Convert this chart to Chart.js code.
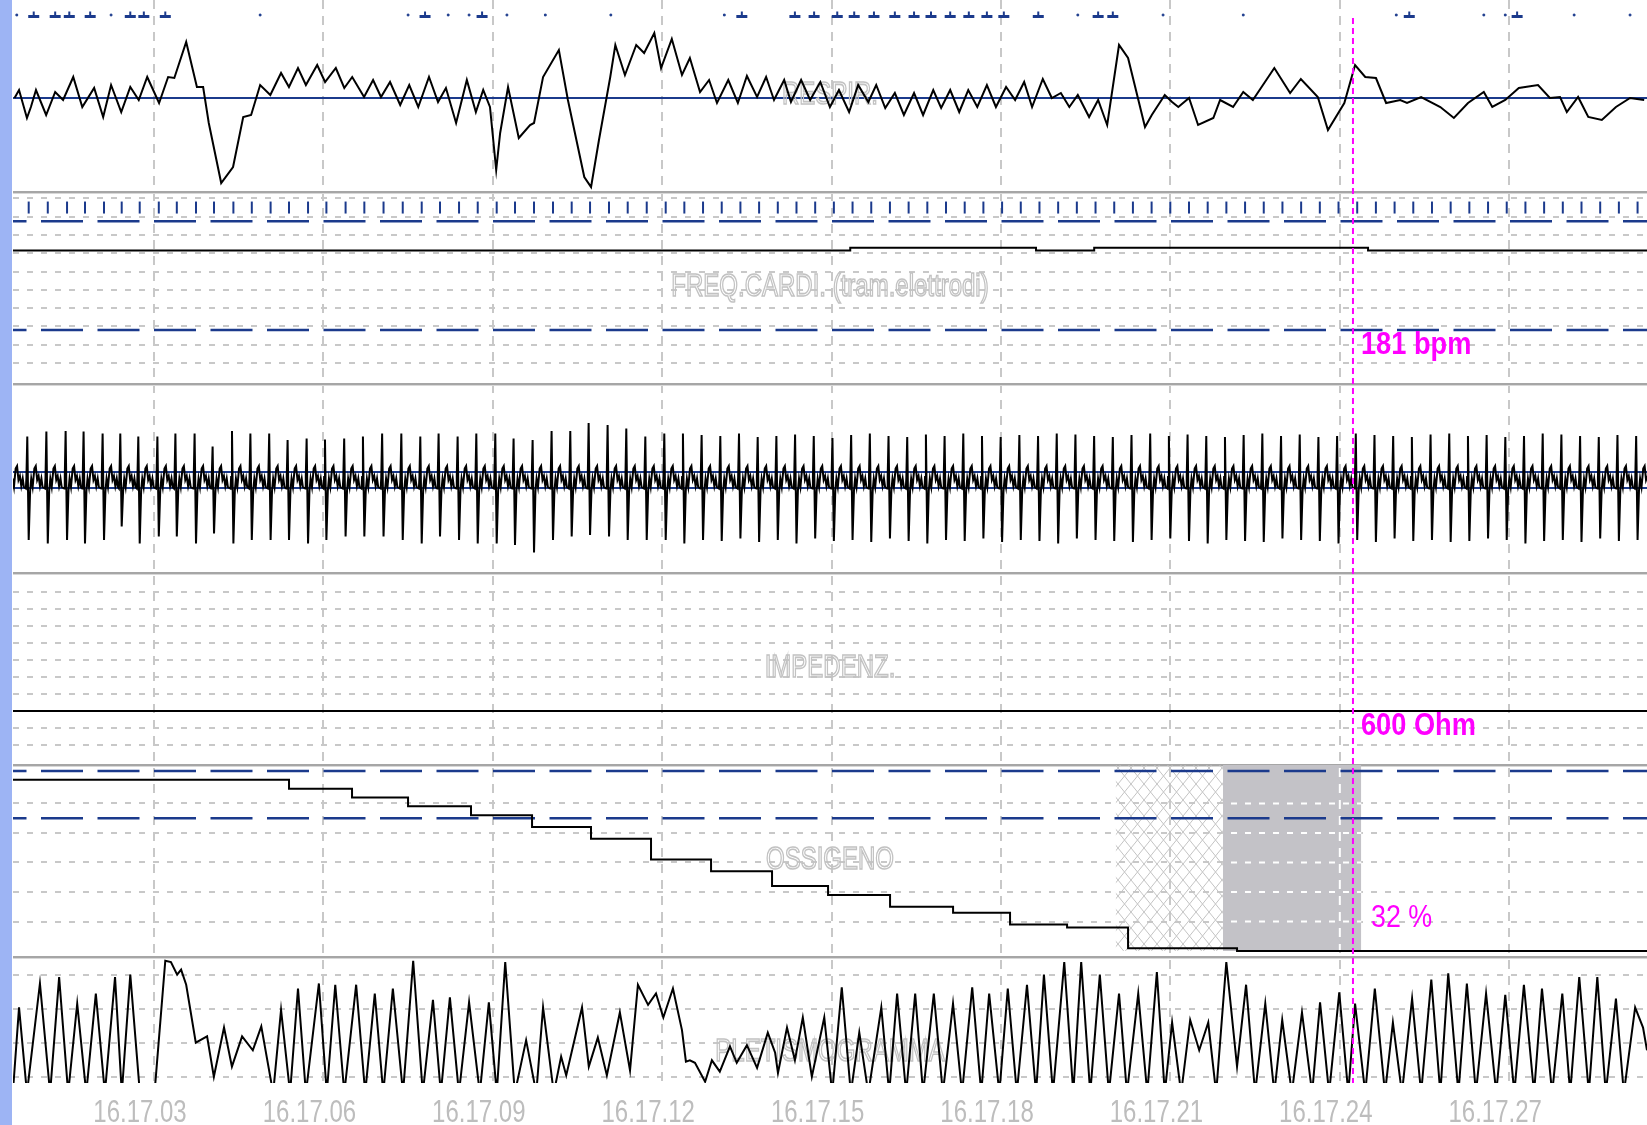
<!DOCTYPE html>
<html>
<head>
<meta charset="utf-8">
<title>Monitor 16.17</title>
<script src="https://cdn.jsdelivr.net/npm/chart.js@4.4.1/dist/chart.umd.min.js"></script>
<style>
  html, body { margin: 0; padding: 0; background: #ffffff; }
  #wrap { position: relative; width: 1647px; height: 1125px; overflow: hidden; }
  #strip { position: absolute; left: 0; top: 0; width: 12px; height: 1125px; background: #9db4f4; }
  #monitor { position: absolute; left: 0; top: 0; }
</style>
</head>
<body>
<div id="wrap">
  <div id="strip"></div>
  <canvas id="monitor" width="1647" height="1125"></canvas>
</div>
<script>
// ---------------------------------------------------------------
// Time base: seconds after 16:17:00
// ---------------------------------------------------------------
const T_MIN = 0.503;
const T_MAX = 29.44;
const timeTicks = [3, 6, 9, 12, 15, 18, 21, 24, 27];
const clockPrefix = '16.17.';
const cursorTime = 24.233;

// ---------------------------------------------------------------
// Respiration (turning points of the trace)
// ---------------------------------------------------------------
const respTimes = [
  0.53,0.61,0.75,0.82,0.91,1.09,1.25,1.39,1.57,1.73,
  1.94,2.10,2.24,2.42,2.58,2.73,2.88,3.09,3.25,3.36,
  3.57,3.76,3.87,3.97,4.19,4.40,4.58,4.72,4.88,5.06,
  5.25,5.39,5.55,5.69,5.89,6.03,6.22,6.37,6.51,6.72,
  6.88,7.02,7.18,7.36,7.52,7.68,7.87,8.03,8.17,8.35,
  8.54,8.70,8.83,8.95,9.06,9.13,9.27,9.46,9.66,9.73,
  9.89,10.17,10.33,10.62,10.74,10.88,11.08,11.17,11.34,11.54,
  11.68,11.86,11.98,12.17,12.35,12.49,12.67,12.83,12.97,13.17,
  13.34,13.50,13.68,13.84,13.98,14.16,14.28,14.46,14.62,14.80,
  14.97,15.13,15.31,15.47,15.65,15.79,15.95,16.12,16.28,16.46,
  16.62,16.80,16.94,17.10,17.26,17.42,17.58,17.75,17.91,18.09,
  18.25,18.41,18.55,18.74,18.90,19.06,19.21,19.36,19.56,19.72,
  19.88,20.09,20.25,20.55,20.67,20.90,21.03,21.14,21.33,21.49,
  21.76,21.88,22.11,22.29,22.46,22.84,23.12,23.31,23.61,23.79,
  24.08,24.27,24.45,24.64,24.82,25.07,25.19,25.44,25.78,26.02,
  26.27,26.55,26.70,26.93,27.17,27.51,27.72,27.90,28.02,28.22,
  28.40,28.64,28.89,29.14,29.39
];
const respValues = [
  0,8,-20,-9,8,-17,6,-2,21,-9,
  10,-19,13,-14,11,-2,21,-5,21,20,
  56,11,11,-25,-85,-69,-19,-17,13,3,
  25,11,30,13,33,16,30,10,21,1,
  18,1,16,-7,13,-9,21,-4,10,-25,
  18,-14,8,-9,-72,-35,11,-40,-27,-25,
  21,48,-2,-79,-89,-42,21,53,23,53,
  45,65,30,59,23,40,6,18,-5,18,
  -5,22,1,21,-2,18,-4,18,-2,16,
  -9,8,-14,13,-4,13,-10,5,-17,5,
  -17,8,-10,8,-14,8,-9,13,-9,11,
  -2,16,-9,19,0,5,-9,3,-19,-2,
  -27,53,40,-29,-17,3,-4,-9,0,-27,
  -20,-2,-9,6,-2,30,5,19,1,-32,
  -5,33,21,20,-5,-2,-5,1,-9,-20,
  -5,6,-9,-2,10,13,0,1,-14,1,
  -19,-22,-9,0,-2
];
const respBaseline = [0];
// breath detection marks along the top of the respiration strip
const breathMarkTimes = [0.87,1.25,1.50,1.87,2.58,2.82,3.20,7.80,8.81,13.41,14.35,14.69,15.10,15.40,15.75,16.12,16.46,16.76,17.10,17.43,17.75,18.05,18.66,19.72,19.98,25.23,27.14];
const breathDotTimes = [0.57,2.24,4.88,7.50,8.21,8.58,9.25,9.93,11.09,13.10,19.36,20.87,22.29,25.00,26.55,26.93,28.15,29.14];
const breathMarkLevel = 81.5;

// ---------------------------------------------------------------
// Heart: beats (S-wave instants), R and S amplitudes in mV
// ---------------------------------------------------------------
const beatTimes = [
  0.450,0.781,1.119,1.460,1.778,2.115,2.428,2.747,3.085,3.404,3.744,
  4.063,4.406,4.732,5.065,5.391,5.728,6.053,6.393,6.725,7.065,
  7.405,7.741,8.065,8.402,8.733,9.069,9.393,9.730,10.066,10.397,
  10.722,11.058,11.389,11.726,12.062,12.392,12.723,13.054,13.385,13.716,
  14.047,14.378,14.709,15.040,15.371,15.702,16.033,16.364,16.695,17.026,
  17.357,17.688,18.019,18.350,18.681,19.012,19.343,19.674,20.005,20.336,
  20.667,20.998,21.329,21.660,21.991,22.322,22.653,22.984,23.315,23.646,
  23.977,24.308,24.639,24.970,25.301,25.632,25.963,26.294,26.625,26.956,
  27.287,27.618,27.949,28.280,28.611,28.942,29.273
];
const beatR = [
  0.90,0.89,0.99,1.00,0.99,0.95,0.95,0.89,0.89,0.95,0.95,
  0.69,1.00,0.95,0.95,0.82,0.85,0.83,0.85,0.89,0.95,
  0.95,0.89,0.95,0.89,0.95,0.95,0.85,0.82,1.00,1.00,
  1.16,1.12,1.05,0.89,0.95,0.95,0.92,0.90,0.95,0.88,
  0.90,0.93,0.90,0.86,0.92,0.95,0.90,0.88,0.93,0.90,
  0.95,0.90,0.88,0.92,0.90,0.95,0.93,0.90,0.88,0.92,
  0.95,0.90,0.93,0.90,0.88,0.92,0.95,0.90,0.93,0.88,
  0.90,0.95,0.92,0.90,0.88,0.93,0.95,0.90,0.92,0.88,
  0.90,0.95,0.93,0.90,0.88,0.92,0.90
];
const beatS = [
  -1.20,-1.18,-1.25,-1.18,-1.25,-1.18,-0.91,-1.25,-1.11,-1.11,-1.25,
  -1.05,-1.25,-1.18,-1.18,-1.18,-1.25,-1.18,-1.11,-1.11,-1.11,
  -1.18,-1.25,-1.11,-1.18,-1.25,-1.25,-1.28,-1.43,-1.18,-1.11,
  -1.08,-1.11,-1.18,-1.18,-1.18,-1.25,-1.18,-1.20,-1.15,-1.22,
  -1.18,-1.25,-1.15,-1.20,-1.18,-1.22,-1.15,-1.20,-1.25,-1.18,
  -1.20,-1.15,-1.22,-1.18,-1.20,-1.25,-1.15,-1.18,-1.20,-1.22,
  -1.18,-1.15,-1.20,-1.25,-1.18,-1.20,-1.22,-1.15,-1.18,-1.20,
  -1.25,-1.18,-1.22,-1.15,-1.20,-1.18,-1.22,-1.20,-1.15,-1.18,
  -1.25,-1.20,-1.18,-1.22,-1.15,-1.20,-1.18
];
const ecgRefs = [0.18, -0.14];

// heart rate from the electrode channel
const hrTimes = [0.503, 15.33, 18.62, 19.65, 24.50];
const hrValues = [178, 181, 178, 181, 178];
const hrAlarms = [210, 91];
const hrGrid = [235, 215, 195, 175, 155, 135, 115, 95, 75, 55];
const beatMarkLevel = 225;

// ---------------------------------------------------------------
// Impedance
// ---------------------------------------------------------------
const impTimes = [0.503, 29.44];
const impValues = [600, 600];
const impGrid = [1300, 1200, 1100, 1000, 900, 800, 700, 600, 500, 400];

// ---------------------------------------------------------------
// Oxygen saturation
// ---------------------------------------------------------------
const spo2Times = [0.503, 5.391, 6.507, 7.499, 8.614, 9.695, 10.739, 11.802, 12.865, 13.945, 14.937, 16.035, 17.151, 18.160, 19.170, 20.250, 22.180, 29.44];
const spo2Values = [90, 87, 84, 81, 78, 74, 70, 63, 59, 54, 51, 47, 45, 41, 40, 33, 32, 32];
const spo2Alarms = [93, 77];
const spo2Grid = [82, 72, 62, 52, 42];
const artefactSpan = [20.03, 21.93];   // probe artefact (hatched)
const dropoutSpan = [21.93, 24.38];    // signal lost (grey)

// ---------------------------------------------------------------
// Plethysmogram
// ---------------------------------------------------------------
const plethTimes = [
  0.50,0.61,0.75,0.98,1.16,1.32,1.48,1.64,1.80,1.97,
  2.13,2.31,2.43,2.58,2.75,2.84,3.02,3.20,3.30,3.41,
  3.48,3.57,3.74,3.94,4.06,4.24,4.38,4.56,4.75,4.90,
  5.11,5.25,5.41,5.55,5.69,5.92,6.06,6.21,6.37,6.58,
  6.74,6.91,7.06,7.23,7.41,7.59,7.76,7.94,8.08,8.24,
  8.40,8.58,8.77,8.93,9.07,9.22,9.39,9.59,9.77,9.89,
  10.08,10.21,10.30,10.58,10.70,10.86,11.02,11.25,11.43,11.57,
  11.75,11.89,12.02,12.19,12.35,12.42,12.49,12.58,12.76,12.88,
  13.02,13.20,13.32,13.50,13.68,13.87,14.00,14.05,14.21,14.35,
  14.49,14.65,14.87,15.01,15.18,15.34,15.49,15.65,15.88,16.02,
  16.16,16.32,16.48,16.62,16.81,16.97,17.15,17.31,17.49,17.65,
  17.79,17.97,18.12,18.28,18.46,18.62,18.76,18.92,19.12,19.28,
  19.42,19.58,19.75,19.91,20.09,20.23,20.43,20.59,20.76,20.90,
  21.03,21.19,21.35,21.51,21.67,21.81,21.99,22.18,22.34,22.50,
  22.68,22.84,22.98,23.15,23.33,23.51,23.65,23.81,23.99,24.15,
  24.27,24.45,24.62,24.80,24.94,25.10,25.28,25.44,25.62,25.78,
  25.92,26.10,26.25,26.41,26.59,26.77,26.93,27.09,27.26,27.44,
  27.58,27.76,27.94,28.08,28.24,28.41,28.56,28.71,28.89,29.03,
  29.23,29.37,29.44
];
const plethValues = [
  -8,60,-8,79,-8,84,-8,63,-8,71,
  -8,84,-8,86,-8,-8,-2,97,96,86,
  90,78,32,37,5,44,13,37,26,45,
  -8,58,-8,75,-8,79,-8,78,-8,78,
  -8,71,-8,75,-8,97,-8,66,-8,68,
  -8,64,-8,64,-8,96,-8,34,-8,60,
  -8,21,6,60,13,36,6,56,10,78,
  62,71,52,75,42,17,18,16,1,18,
  9,29,16,30,12,40,24,8,44,18,
  52,5,52,-8,76,-8,40,-8,60,-8,
  71,-8,71,-8,71,-8,63,-8,76,-8,
  71,-8,75,-8,78,-8,86,-8,96,-8,
  96,-8,86,-8,71,-8,71,-8,88,-8,
  48,-8,50,26,48,-8,96,13,78,-8,
  63,-8,50,-8,56,-8,64,-8,72,-8,
  63,-8,75,-8,48,-8,67,-8,82,-8,
  87,-8,79,-8,71,-8,70,-8,78,-8,
  75,-8,71,-8,84,-8,84,-8,67,-8,
  60,44,26
];
const plethGrid = [86, 59, 32, 5];

// ---------------------------------------------------------------
// Drawing helpers
// ---------------------------------------------------------------
const NAVY = '#1b3a8c';
const GRID = '#c8c8c8';
const MAGENTA = '#ff00ff';
const TEXT_FONT = '"Liberation Sans", Arial, sans-serif';

const zip = (xs, ys) => xs.map((x, i) => ({ x, y: ys[i] }));
const level = (xs, v) => xs.map(x => ({ x, y: v }));
const span = (v) => [{ x: T_MIN, y: v }, { x: T_MAX, y: v }];
const clockLabel = (s) => clockPrefix + String(s).padStart(2, '0');

// shape of one complex around the S instant: lead-in, R at -25 ms, S at 0, then ST/T segment
const qrsLead = [[-0.05, -0.15], [-0.04, 0.08]];
const qrsTrail = [[0.025, -0.2], [0.045, 0.05], [0.07, -0.12], [0.10, 0.25], [0.125, 0.30], [0.15, 0.02], [0.175, 0.10], [0.20, -0.10], [0.225, 0.05], [0.245, -0.12]];

function ecgPoints() {
  const pts = [];
  beatTimes.forEach((t, i) => {
    for (const [dt, v] of qrsLead) pts.push({ x: t + dt, y: v });
    pts.push({ x: t - 0.025, y: beatR[i] });
    pts.push({ x: t, y: beatS[i] });
    for (const [dt, v] of qrsTrail) pts.push({ x: t + dt, y: v });
  });
  return pts;
}

function valueAt(times, values, t) {
  let v = values[0];
  for (let i = 0; i < times.length; i++) if (times[i] <= t) v = values[i];
  return v;
}

function drawStretched(ctx, text, x, y, font, sx, align, color, hollow) {
  ctx.save();
  ctx.translate(x, y);
  ctx.scale(sx, 1);
  ctx.font = font;
  ctx.textAlign = align;
  ctx.textBaseline = 'alphabetic';
  if (hollow) {
    ctx.strokeStyle = color;
    ctx.lineWidth = 1.6;
    ctx.strokeText(text, 0, 0);
  } else {
    ctx.fillStyle = color;
    ctx.fillText(text, 0, 0);
  }
  ctx.restore();
}

const ctx2d = document.getElementById('monitor').getContext('2d');
function crossHatch() {
  const c = document.createElement('canvas');
  c.width = 13; c.height = 16;
  const g = c.getContext('2d');
  g.strokeStyle = '#c4c4c4';
  g.lineWidth = 1;
  g.beginPath();
  g.moveTo(0, 0); g.lineTo(13, 16);
  g.moveTo(13, 0); g.lineTo(0, 16);
  g.stroke();
  return ctx2d.createPattern(c, 'repeat');
}

const panelOrder = ['yResp', 'yHr', 'yEcg', 'yImp', 'ySpo2', 'yPleth'];
const panelTitles = {
  yResp: 'RESPIR.',
  yHr: 'FREQ.CARDI. (tram.elettrodi)',
  yImp: 'IMPEDENZ.',
  ySpo2: 'OSSIGENO',
  yPleth: 'PLETISMOGRAMMA'
};
const readouts = [
  { scale: 'yHr', times: hrTimes, values: hrValues, unit: 'bpm', bold: true, dx: 8, sx: 0.85 },
  { scale: 'yImp', times: impTimes, values: impValues, unit: 'Ohm', bold: true, dx: 8, sx: 0.85 },
  { scale: 'ySpo2', times: spo2Times, values: spo2Values, unit: '%', bold: false, dx: 18, sx: 0.84 }
];

// panel titles, separators, dropout grid, cursor with readouts, clock labels
const monitorOverlay = {
  id: 'monitorOverlay',
  beforeDatasetsDraw(chart) {
    const { ctx, chartArea: a } = chart;
    for (const id of panelOrder) {
      const s = chart.scales[id];
      const title = panelTitles[id];
      if (title) drawStretched(ctx, title, (a.left + a.right) / 2, s.top + 104, '32px ' + TEXT_FONT, 0.75, 'center', '#c2c2c2', true);
      if (s.bottom < a.bottom - 1) {
        ctx.fillStyle = '#a6a6a6';
        ctx.fillRect(a.left, s.bottom - 1, a.right - a.left, 2);
        ctx.fillStyle = '#d8d8d8';
        ctx.fillRect(a.left, s.bottom + 1, a.right - a.left, 1);
      }
    }
  },
  afterDatasetDraw(chart, args) {
    const ds = chart.data.datasets[args.index];
    if (ds.label !== 'dropout') return;
    const { ctx, chartArea: a } = chart;
    const x = chart.scales.x, y = chart.scales.ySpo2;
    const x0 = x.getPixelForValue(ds.data[0].x);
    const x1 = x.getPixelForValue(ds.data[ds.data.length - 1].x);
    const yTop = y.getPixelForValue(ds.data[0].y);
    const yBot = y.getPixelForValue(ds.fill.value);
    ctx.save();
    ctx.beginPath();
    ctx.rect(x0, yTop, x1 - x0, yBot - yTop);
    ctx.clip();
    ctx.strokeStyle = '#ffffff';
    ctx.lineWidth = 2;
    ctx.setLineDash([6, 8]);
    for (const t of y.ticks) {
      const py = y.getPixelForValue(t.value);
      ctx.beginPath(); ctx.moveTo(a.left, py); ctx.lineTo(a.right, py); ctx.stroke();
    }
    ctx.setLineDash([9, 7]);
    for (const t of x.ticks) {
      const px = x.getPixelForValue(t.value);
      ctx.beginPath(); ctx.moveTo(px, a.top); ctx.lineTo(px, a.bottom); ctx.stroke();
    }
    ctx.restore();
  },
  afterDraw(chart) {
    const { ctx, chartArea: a } = chart;
    const x = chart.scales.x;
    // clock labels under the strips
    for (const t of x.ticks) {
      const px = x.getPixelForValue(t.value);
      drawStretched(ctx, clockLabel(t.value), px - 14, a.bottom + 39, '32px ' + TEXT_FONT, 0.75, 'center', '#bdbdbd', false);
    }
    // measurement cursor
    const cx = x.getPixelForValue(cursorTime);
    ctx.save();
    ctx.strokeStyle = MAGENTA;
    ctx.lineWidth = 2;
    ctx.setLineDash([6, 4]);
    ctx.beginPath();
    ctx.moveTo(cx, a.top + 18);
    ctx.lineTo(cx, a.bottom);
    ctx.stroke();
    ctx.restore();
    for (const r of readouts) {
      const s = chart.scales[r.scale];
      const v = valueAt(r.times, r.values, cursorTime);
      drawStretched(ctx, v + ' ' + r.unit, cx + r.dx, s.bottom - 30, (r.bold ? 'bold ' : '') + '32px ' + TEXT_FONT, r.sx, 'left', MAGENTA, false);
    }
  }
};

function panelScale(weight, height, min, max, grid, gridColor, dash) {
  return {
    type: 'linear', position: 'left', stack: 'monitor',
    weight, stackWeight: height, min, max,
    afterBuildTicks: (s) => { s.ticks = grid.map(v => ({ value: v })); },
    ticks: { display: false },
    grid: { display: grid.length > 0, drawTicks: false, color: gridColor, lineWidth: 2 },
    border: { display: false, dash }
  };
}

const trace = (data, yAxisID, extra) => Object.assign({
  data, yAxisID, borderColor: '#000000', borderWidth: 2, pointRadius: 0, fill: false, order: 1
}, extra || {});
const alarm = (v, yAxisID) => ({
  data: span(v), yAxisID, borderColor: NAVY, borderWidth: 2.5,
  borderDash: [42, 14.5], borderDashOffset: 28.5, pointRadius: 0, fill: false, order: 5
});
const marks = (data, yAxisID, style, radius, width, rotation) => ({
  data, yAxisID, showLine: false, pointStyle: style, pointRadius: radius,
  pointBorderColor: NAVY, pointBackgroundColor: NAVY, pointBorderWidth: width,
  pointRotation: rotation || 0, order: 0
});

new Chart(ctx2d, {
  type: 'line',
  data: {
    datasets: [
      // oxygen panel: artefact and dropout zones
      { label: 'artefact', data: [{ x: artefactSpan[0], y: 95 }, { x: artefactSpan[1], y: 95 }], yAxisID: 'ySpo2',
        fill: { value: 32 }, backgroundColor: crossHatch(), borderWidth: 0, pointRadius: 0, order: 20 },
      { label: 'dropout', data: [{ x: dropoutSpan[0], y: 95 }, { x: dropoutSpan[1], y: 95 }], yAxisID: 'ySpo2',
        fill: { value: 32 }, backgroundColor: '#c3c2c7', borderWidth: 0, pointRadius: 0, order: 19 },

      // alarm limits
      alarm(hrAlarms[0], 'yHr'), alarm(hrAlarms[1], 'yHr'),
      alarm(spo2Alarms[0], 'ySpo2'), alarm(spo2Alarms[1], 'ySpo2'),

      // traces
      trace(zip(respTimes, respValues), 'yResp'),
      trace(zip(hrTimes, hrValues).concat([{ x: T_MAX, y: hrValues[hrValues.length - 1] }]), 'yHr', { stepped: true }),
      trace(ecgPoints(), 'yEcg'),
      trace(zip(impTimes, impValues), 'yImp'),
      trace(zip(spo2Times, spo2Values), 'ySpo2', { stepped: true }),
      trace(zip(plethTimes, plethValues), 'yPleth'),

      // event marks
      marks(level(breathMarkTimes, breathMarkLevel), 'yResp', 'line', 5.5, 3, 0),
      marks(level(breathMarkTimes, breathMarkLevel + 2.5), 'yResp', 'line', 2.5, 2, 90),
      marks(level(breathDotTimes, breathMarkLevel + 1.5), 'yResp', 'rect', 1.2, 1, 0),
      marks(level(beatTimes, beatMarkLevel), 'yHr', 'line', 6, 2, 90)
    ]
  },
  options: {
    responsive: false,
    animation: false,
    events: [],
    layout: { autoPadding: false, padding: { left: 13, top: 0, right: 0, bottom: 42 } },
    plugins: { legend: { display: false }, tooltip: { enabled: false } },
    elements: { line: { tension: 0 }, point: { radius: 0 } },
    scales: {
      x: {
        type: 'linear', min: T_MIN, max: T_MAX,
        afterBuildTicks: (s) => { s.ticks = timeTicks.map(v => ({ value: v })); },
        ticks: { display: false, callback: (v) => clockLabel(v) },
        grid: { drawTicks: false, color: GRID, lineWidth: 2 },
        border: { display: false, dash: [9, 7] }
      },
      yResp:  panelScale(6, 192, -94, 98, respBaseline, NAVY, []),
      yHr:    panelScale(5, 192, 32, 242, hrGrid, GRID, [6, 8]),
      yEcg:   panelScale(4, 189, -1.84, 1.94, ecgRefs, NAVY, []),
      yImp:   panelScale(3, 192, 282, 1412, impGrid, GRID, [6, 8]),
      ySpo2:  panelScale(2, 192, 30, 95, spo2Grid, GRID, [6, 8]),
      yPleth: panelScale(1, 126, 0, 100, plethGrid, GRID, [6, 8])
    }
  },
  plugins: [monitorOverlay]
});
</script>
</body>
</html>
